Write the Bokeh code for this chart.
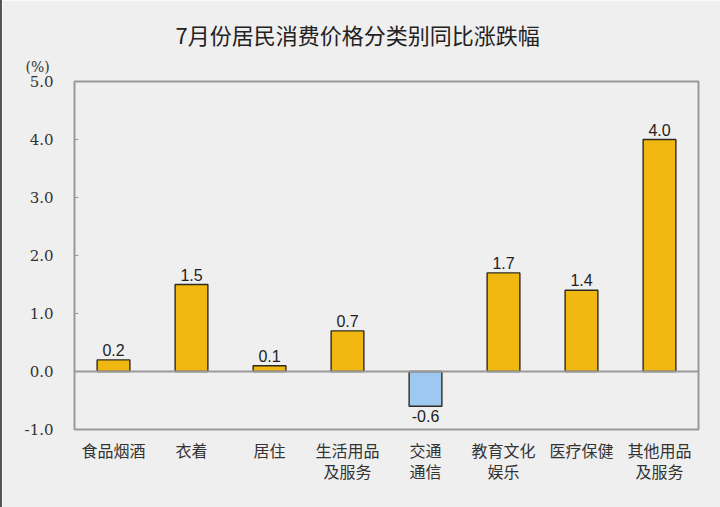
from bokeh.plotting import figure
from bokeh.models import ColumnDataSource, Span, FixedTicker, LabelSet, Title, LinearAxis, Range1d
from bokeh.core.properties import value
from bokeh.embed import file_html
from bokeh.resources import INLINE

categories = ["食品烟酒", "衣着", "居住", "生活用品及服务", "交通通信", "教育文化娱乐", "医疗保健", "其他用品及服务"]
label_line1 = ["食品烟酒", "衣着", "居住", "生活用品", "交通", "教育文化", "医疗保健", "其他用品"]
label_line2 = ["", "", "", "及服务", "通信", "娱乐", "", "及服务"]
values = [0.2, 1.5, 0.1, 0.7, -0.6, 1.7, 1.4, 4.0]
y_ticks = [-1.0, 0.0, 1.0, 2.0, 3.0, 4.0, 5.0]

BG = "#efefef"
pos_color = "#f0b810"
neg_color = "#9dc8f0"

W, H = 720, 507
FL, FR, FT, FB = 72, 24, 81, 78

xs = list(range(len(categories)))
colors = [pos_color if v >= 0 else neg_color for v in values]
src = ColumnDataSource(dict(x=xs, cat=categories, val=values, color=colors))
pos_src = ColumnDataSource(dict(x=[i for i, v in zip(xs, values) if v >= 0],
                                val=[v for v in values if v >= 0],
                                txt=[f"{v:.1f}" for v in values if v >= 0]))
neg_src = ColumnDataSource(dict(x=[i for i, v in zip(xs, values) if v < 0],
                                val=[v for v in values if v < 0],
                                txt=[f"{v:.1f}" for v in values if v < 0]))

p = figure(x_range=Range1d(-0.5, len(categories) - 0.5), y_range=(-1.0, 5.0),
           width=W, height=H, output_backend="svg", toolbar_location=None,
           min_border_left=FL, min_border_right=FR, min_border_top=FT, min_border_bottom=FB,
           background_fill_color=BG, border_fill_color=BG,
           title=Title(text="7月份居民消费价格分类别同比涨跌幅", align="left", offset=101,
                       standoff=0, text_font="Noto Sans CJK SC", text_font_size="22px",
                       text_line_height=1.8,
                       text_font_style="normal", text_color="#222222"))
p.styles = {"border-left": "2px solid #555"}

p.vbar(x="x", top="val", bottom=0, width=0.42, source=src, fill_color="color",
       line_color="#2f2a20", line_width=1.4)

p.add_layout(Span(location=0, dimension="width", line_color="#999999", line_width=2))

common = dict(text_align="center", text_font_size="16px", text_color="#222222",
              text_font=value("Liberation Sans"))
p.add_layout(LabelSet(x="x", y="val", text="txt", y_offset=4, source=pos_src,
                      text_baseline="bottom", **common))
p.add_layout(LabelSet(x="x", y="val", text="txt", y_offset=-4, source=neg_src,
                      text_baseline="top", **common))

p.outline_line_color = "#999999"
p.outline_line_width = 2
p.grid.visible = False

p.yaxis.ticker = FixedTicker(ticks=y_ticks)
p.yaxis.major_label_overrides = {t: f"{t:.1f}" for t in y_ticks}
p.yaxis.axis_line_color = None
p.yaxis.major_tick_in = 4
p.yaxis.major_tick_out = 0
p.yaxis.major_tick_line_color = "#999999"
p.yaxis.minor_tick_line_color = None
p.yaxis.major_label_standoff = 21
p.yaxis.major_label_text_font = "DejaVu Serif"
p.yaxis.major_label_text_font_size = "15px"
p.yaxis.major_label_text_color = "#333333"

def style_cat_axis(ax, labels, standoff):
    ticks = [i for i, t in zip(xs, labels) if t]
    ax.ticker = FixedTicker(ticks=ticks)
    ax.axis_line_color = None
    ax.major_tick_line_color = None
    ax.minor_tick_line_color = None
    ax.major_tick_out = 0
    ax.major_tick_in = 0
    ax.major_label_overrides = {i: t for i, t in zip(xs, labels) if t}
    ax.major_label_standoff = standoff
    ax.major_label_text_font = "Noto Sans CJK SC"
    ax.major_label_text_font_size = "16px"
    ax.major_label_text_color = "#333333"

style_cat_axis(p.xaxis[0], label_line1, 8)
ax2 = LinearAxis()
style_cat_axis(ax2, label_line2, -6)
p.add_layout(ax2, "below")

p.add_layout(Title(text="(%)", align="left", offset=-49, standoff=14,
                   text_font="DejaVu Serif", text_font_size="14px",
                   text_font_style="normal", text_color="#333333"), "above")

open("out.html", "w").write(file_html(p, INLINE))
